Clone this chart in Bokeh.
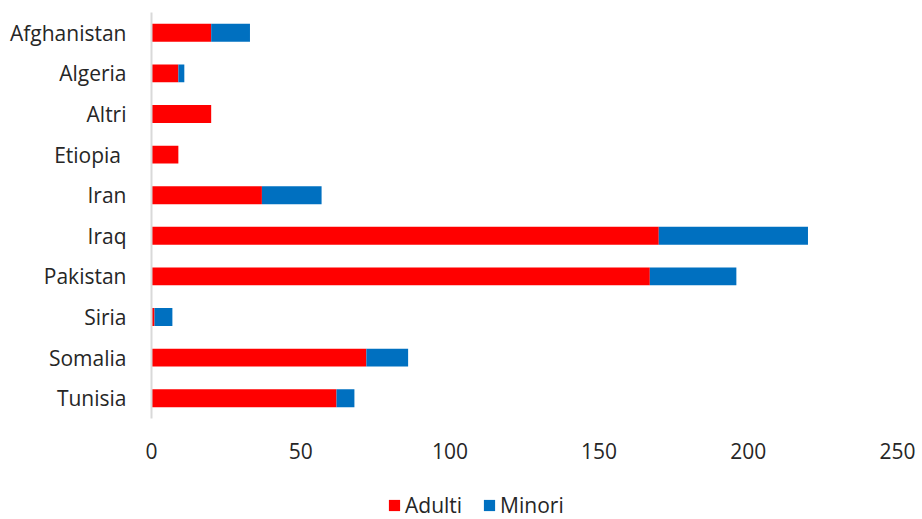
from bokeh.plotting import figure
from bokeh.layouts import column
from bokeh.models import Range1d, FactorRange, Legend, FixedTicker
from bokeh.embed import file_html
from bokeh.resources import INLINE

# Countries of origin, top to bottom
countries = ["Afghanistan", "Algeria", "Altri", "Etiopia ", "Iran",
             "Iraq", "Pakistan", "Siria", "Somalia", "Tunisia"]
adulti = [20, 9, 20, 9, 37, 170, 167, 1, 72, 62]
minori = [13, 2, 0, 0, 20, 50, 29, 6, 14, 6]
series = ["Adulti", "Minori"]
colors = ["#FF0000", "#0070C0"]
x_ticks = [0, 50, 100, 150, 200, 250]

FONT = "Open Sans"
FONT_SIZE = "21px"
TEXT_COLOR = "#262626"

source = dict(country=countries, Adulti=adulti, Minori=minori)

p = figure(
    width=922, height=470,
    y_range=FactorRange(factors=list(reversed(countries)), range_padding=0),
    x_range=Range1d(0, 250),
    output_backend="svg", toolbar_location=None,
    min_border_left=151, min_border_right=25,
    min_border_top=12, min_border_bottom=52,
)

p.hbar_stack(
    series, y="country", height=0.44,
    color=colors, line_color=None, source=source,
)

p.outline_line_color = None
p.grid.visible = False
p.background_fill_color = "white"
p.border_fill_color = "white"

# Category axis
p.yaxis.axis_line_color = "#D9D9D9"
p.yaxis.axis_line_width = 2
p.yaxis.major_tick_line_color = None
p.yaxis.minor_tick_line_color = None
p.yaxis.major_tick_out = 0
p.yaxis.major_tick_in = 0
p.yaxis.major_label_standoff = 25
p.yaxis.major_label_text_font = FONT
p.yaxis.major_label_text_font_size = FONT_SIZE
p.yaxis.major_label_text_color = TEXT_COLOR

# Value axis
p.xaxis.ticker = FixedTicker(ticks=x_ticks)
p.xaxis.axis_line_color = None
p.xaxis.major_tick_line_color = None
p.xaxis.minor_tick_line_color = None
p.xaxis.major_tick_out = 0
p.xaxis.major_tick_in = 0
p.xaxis.major_label_standoff = 24
p.xaxis.major_label_text_font = FONT
p.xaxis.major_label_text_font_size = FONT_SIZE
p.xaxis.major_label_text_color = TEXT_COLOR

# Legend strip under the chart (its frame lines up with the chart frame)
lg = figure(
    width=922, height=49,
    x_range=Range1d(0, 1), y_range=Range1d(0, 1),
    x_axis_type=None, y_axis_type=None,
    output_backend="svg", toolbar_location=None,
    min_border=0,
)
lg.outline_line_color = None
lg.grid.visible = False
# key swatches: bars placed outside the visible range, only their legend glyphs show
key_renderers = [
    lg.hbar(y=[-10], left=[0], right=[1], height=0.5, color=c, line_color=None)
    for c in colors
]
legend = Legend(
    items=[(name, [r]) for name, r in zip(series, key_renderers)],
    orientation="horizontal", location=(236, 0),
    label_text_font=FONT, label_text_font_size=FONT_SIZE,
    label_text_color=TEXT_COLOR,
    glyph_width=14, glyph_height=14, spacing=20,
    label_standoff=4, border_line_color=None,
    background_fill_alpha=0, margin=0, padding=0,
)
lg.add_layout(legend, "center")

layout = column(p, lg, spacing=0)
open("out.html", "w").write(file_html(layout, INLINE))
